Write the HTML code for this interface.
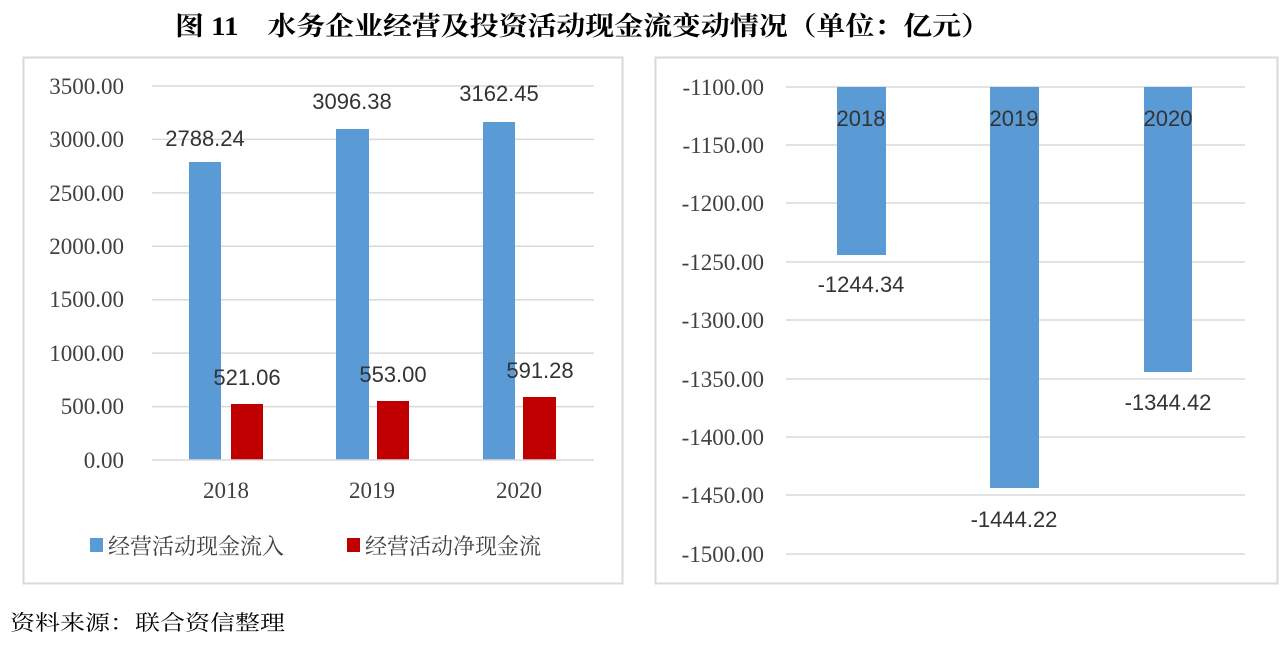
<!DOCTYPE html>
<html><head><meta charset="utf-8"><style>
body{margin:0;width:1287px;height:646px;background:#fff;overflow:hidden;position:relative;font-family:"Liberation Serif","Noto Serif CJK SC",serif}
</style></head><body>
<svg width="1287" height="646" viewBox="0 0 1287 646" xmlns="http://www.w3.org/2000/svg">
<text x="175" y="35" font-size="26" font-weight="bold" font-family="Liberation Serif, Noto Serif CJK SC, serif" fill="#000" textLength="815" lengthAdjust="spacingAndGlyphs">图 11　水务企业经营及投资活动现金流变动情况（单位：亿元）</text>
<!-- left panel -->
<rect x="23.5" y="57.5" width="599" height="526" fill="#fff" stroke="#d9d9d9" stroke-width="2"/>
<g stroke="#d9d9d9" stroke-width="1.5">
<line x1="152" x2="594" y1="86" y2="86"/><line x1="152" x2="594" y1="139.4" y2="139.4"/><line x1="152" x2="594" y1="192.9" y2="192.9"/><line x1="152" x2="594" y1="246.3" y2="246.3"/><line x1="152" x2="594" y1="299.7" y2="299.7"/><line x1="152" x2="594" y1="353.1" y2="353.1"/><line x1="152" x2="594" y1="406.6" y2="406.6"/>
</g>
<g font-family="Liberation Serif, serif" font-size="23" fill="#404040" text-anchor="end">
<text x="124" y="94">3500.00</text><text x="124" y="147">3000.00</text><text x="124" y="201">2500.00</text><text x="124" y="254">2000.00</text><text x="124" y="307">1500.00</text><text x="124" y="361">1000.00</text><text x="124" y="414">500.00</text><text x="124" y="468">0.00</text>
</g>
<g fill="#5b9bd5"><rect x="189" y="162" width="32" height="298"/><rect x="336" y="129" width="33" height="331"/><rect x="483" y="122" width="32" height="338"/></g>
<g fill="#c00000"><rect x="231" y="404" width="32" height="56"/><rect x="377" y="401" width="32" height="59"/><rect x="523" y="397" width="33" height="63"/></g>
<line x1="152" x2="594" y1="460" y2="460" stroke="#d9d9d9" stroke-width="1.5"/>
<g font-family="Liberation Serif, serif" font-size="23" fill="#404040">
<text x="226" y="498" text-anchor="middle">2018</text><text x="372" y="498" text-anchor="middle">2019</text><text x="519" y="498" text-anchor="middle">2020</text></g>
<g font-family="Liberation Sans, sans-serif" font-size="22" fill="#333" text-anchor="middle">
<text x="205" y="146">2788.24</text><text x="352" y="109">3096.38</text><text x="499" y="101">3162.45</text>
<text x="247" y="385">521.06</text><text x="393" y="382">553.00</text><text x="540" y="378">591.28</text></g>
<rect x="90" y="538" width="13" height="14" fill="#5b9bd5"/>
<rect x="347" y="538" width="13" height="14" fill="#c00000"/>
<g font-family="Noto Serif CJK SC, serif" font-size="22" fill="#404040"><text x="108" y="554">经营活动现金流入</text><text x="365" y="554">经营活动净现金流</text></g>
<!-- right panel -->
<rect x="655.5" y="57.5" width="622" height="526" fill="#fff" stroke="#d9d9d9" stroke-width="2"/>
<g stroke="#d9d9d9" stroke-width="1.5">
<line x1="786" x2="1245" y1="87" y2="87"/><line x1="786" x2="1245" y1="145" y2="145"/><line x1="786" x2="1245" y1="203" y2="203"/><line x1="786" x2="1245" y1="262" y2="262"/><line x1="786" x2="1245" y1="320" y2="320"/><line x1="786" x2="1245" y1="379" y2="379"/><line x1="786" x2="1245" y1="437" y2="437"/><line x1="786" x2="1245" y1="495" y2="495"/><line x1="786" x2="1245" y1="554" y2="554"/>
</g>
<g font-family="Liberation Serif, serif" font-size="23" fill="#404040" text-anchor="end">
<text x="764" y="95">-1100.00</text><text x="764" y="153">-1150.00</text><text x="764" y="211">-1200.00</text><text x="764" y="270">-1250.00</text><text x="764" y="328">-1300.00</text><text x="764" y="387">-1350.00</text><text x="764" y="445">-1400.00</text><text x="764" y="503">-1450.00</text><text x="764" y="562">-1500.00</text></g>
<g fill="#5b9bd5"><rect x="837" y="87" width="49" height="168"/><rect x="990" y="87" width="49" height="401"/><rect x="1144" y="87" width="48" height="285"/></g>
<g font-family="Liberation Sans, sans-serif" font-size="22" fill="#333" text-anchor="middle">
<text x="861" y="126">2018</text><text x="1014" y="126">2019</text><text x="1168" y="126">2020</text>
<text x="861" y="292">-1244.34</text><text x="1014" y="527">-1444.22</text><text x="1168" y="410">-1344.42</text></g>
<text x="10" y="630" font-family="Noto Serif CJK SC, serif" font-size="21" fill="#000" textLength="275" lengthAdjust="spacingAndGlyphs">资料来源：联合资信整理</text>
</svg>
</body></html>
